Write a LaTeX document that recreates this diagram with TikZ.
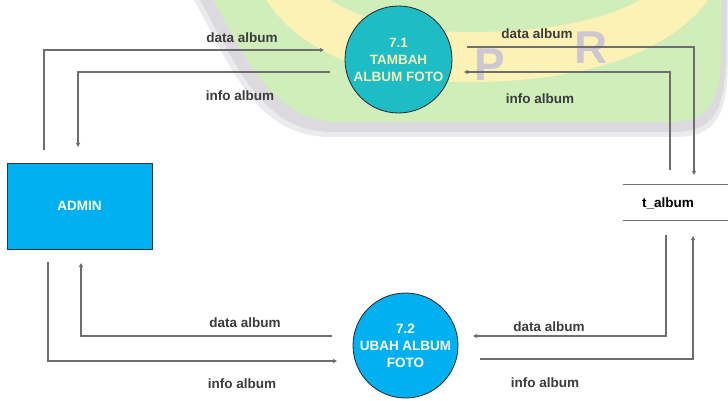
\documentclass[tikz,border=0pt]{standalone}
\usepackage{fontspec}
\setmainfont{Liberation Sans}
\usetikzlibrary{arrows.meta}

\definecolor{flowgrey}{HTML}{6E6E6E}
\definecolor{labelgrey}{HTML}{3C3C3C}
\definecolor{entityblue}{HTML}{00B0F0}
\definecolor{procteal}{HTML}{1EBCC4}
\definecolor{proctext}{HTML}{F2F0B8}
\definecolor{wmgreyout}{HTML}{EBEAEC}
\definecolor{wmgrey}{HTML}{DCDADE}
\definecolor{wmgreen}{HTML}{CFEEBA}
\definecolor{wmyellow}{HTML}{FCF2B6}
\definecolor{wmletter}{HTML}{CEC7D3}

\tikzset{
  basefont/.style={font=\fontsize{13.5}{17}\selectfont\bfseries},
  entity/.style={draw=black!80, line width=0.8pt, fill=entityblue, text=white,
    minimum width=145pt, minimum height=86pt, inner sep=0pt},
  proc/.style={circle, draw=black!85, line width=0.8pt, fill=entityblue, text=white,
    align=center, inner sep=0pt},
  store/.style={minimum width=105pt, minimum height=35pt, inner sep=0pt},
  flowlabel/.style={text=labelgrey, inner sep=1pt},
  flow/.style={draw=flowgrey, line width=1.1pt,
    -{Triangle[length=4pt,width=4pt]}},
  wmtext/.style={text=wmletter, font=\fontsize{46}{46}\selectfont\bfseries, inner sep=0pt}
}

\begin{document}
\begin{tikzpicture}[x=1pt, y=-1pt, basefont]
\useasboundingbox (0,0) rectangle (728,401);
\fill[white] (0,0) rectangle (728,401);

% faint emblem behind the upper part of the diagram
\fill[wmgreyout] (194,0) .. controls (234,74) and (258,136) .. (330,137)
  -- (674,137) .. controls (718,137) and (727,114) .. (728,60) -- (728,0) -- cycle;
\fill[wmgrey] (200,0) .. controls (240,72) and (263,131) .. (332,132)
  -- (672,132) .. controls (715,132) and (724,110) .. (726,60) -- (727,0) -- cycle;
\fill[wmgreen] (213,0) .. controls (250,66) and (276,121) .. (338,122)
  -- (670,122) .. controls (708,122) and (719,102) .. (721,60) -- (722,0) -- cycle;
\fill[wmyellow] (266,0) .. controls (298,48) and (360,78) .. (455,82)
  .. controls (560,84) and (662,62) .. (708,0) -- cycle;
\fill[wmgreen] (330,0) .. controls (370,24) and (420,32) .. (470,32)
  .. controls (540,32) and (600,22) .. (640,0) -- cycle;
\node[wmtext] (wmP) at (490,65) {P};
\node[wmtext] (wmR) at (591,48) {R};

% entity, processes and data store
\node[entity] (admin) at (79.5,206) {ADMIN};
\node[proc, fill=procteal, text=proctext, minimum size=107pt] (p1) at (398.5,59.5)
  {7.1\\TAMBAH\\ALBUM FOTO};
\node[proc, minimum size=105pt] (p2) at (405.5,345.5) {7.2\\UBAH ALBUM\\FOTO};
\node[store] (store) at (675.5,202.5) {};
\node[text=black, inner sep=0pt] (storelbl) at (668,203) {t\_album};
\draw[line width=1.1pt, draw=flowgrey] (store.north west) -- (store.north east);
\draw[line width=1.1pt, draw=flowgrey] (store.south west) -- (store.south east);

% connector end points
\coordinate (adminTopOut) at (44,150);
\coordinate (adminTopIn) at (78,147);
\coordinate (adminBotOut) at (48,262);
\coordinate (adminBotIn) at (81,263);
\coordinate (p1inA) at (324,50);
\coordinate (p1outA) at (330,72);
\coordinate (p1outB) at (467,47);
\coordinate (p1inB) at (464,72);
\coordinate (p2outA) at (332,336);
\coordinate (p2inA) at (337,361);
\coordinate (p2inB) at (473,336);
\coordinate (p2outB) at (480,359);
\coordinate (storeTopIn) at (694,175);
\coordinate (storeTopOut) at (670,170);
\coordinate (storeBotOut) at (666,235);
\coordinate (storeBotIn) at (693,236);

% data flows
\draw[flow] (adminTopOut) |- (p1inA);
\draw[flow] (p1outA) -| (adminTopIn);
\draw[flow] (p1outB) -| (storeTopIn);
\draw[flow] (storeTopOut) |- (p1inB);
\draw[flow] (p2outA) -| (adminBotIn);
\draw[flow] (adminBotOut) |- (p2inA);
\draw[flow] (storeBotOut) |- (p2inB);
\draw[flow] (p2outB) -| (storeBotIn);

% flow labels
\node[flowlabel] (l1) at (242,38) {data album};
\node[flowlabel] (l2) at (240,96) {info album};
\node[flowlabel] (l3) at (537,34) {data album};
\node[flowlabel] (l4) at (540,99) {info album};
\node[flowlabel] (l5) at (245,323) {data album};
\node[flowlabel] (l6) at (242,384) {info album};
\node[flowlabel] (l7) at (549,327) {data album};
\node[flowlabel] (l8) at (545,383) {info album};
\end{tikzpicture}
\end{document}
